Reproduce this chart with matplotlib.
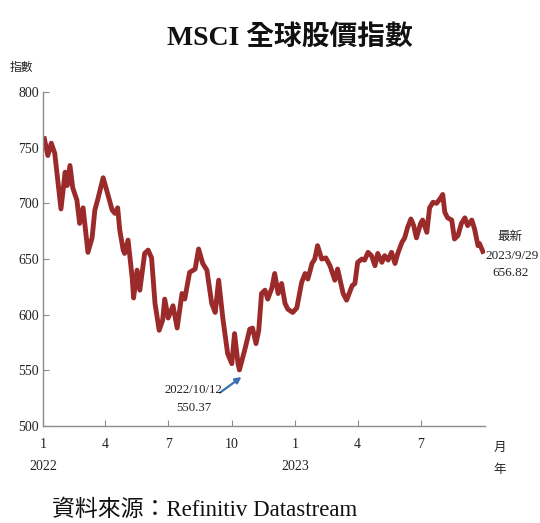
import matplotlib
matplotlib.use("Agg")
import matplotlib.pyplot as plt
import pandas as pd

plt.rcParams['font.family'] = ['Liberation Serif', 'Noto Sans CJK TC', 'DejaVu Sans']

dates = [
    "2022-01-03", "2022-01-08", "2022-01-13", "2022-01-18", "2022-01-27", "2022-02-02",
    "2022-02-05", "2022-02-09", "2022-02-13", "2022-02-19", "2022-02-23", "2022-02-28",
    "2022-03-07", "2022-03-13", "2022-03-17", "2022-03-21", "2022-03-29", "2022-04-03",
    "2022-04-11", "2022-04-15", "2022-04-19", "2022-04-22", "2022-04-27", "2022-04-29",
    "2022-05-04", "2022-05-10", "2022-05-12", "2022-05-17", "2022-05-21", "2022-05-28",
    "2022-06-02", "2022-06-07", "2022-06-12", "2022-06-18", "2022-06-23", "2022-06-26",
    "2022-07-01", "2022-07-08", "2022-07-14", "2022-07-21", "2022-07-25", "2022-08-01",
    "2022-08-09", "2022-08-14", "2022-08-20", "2022-08-26", "2022-09-02", "2022-09-07",
    "2022-09-12", "2022-09-18", "2022-09-25", "2022-10-01", "2022-10-05", "2022-10-10",
    "2022-10-12", "2022-10-20", "2022-10-27", "2022-10-31", "2022-11-05", "2022-11-09",
    "2022-11-13", "2022-11-18", "2022-11-22", "2022-11-28", "2022-12-02", "2022-12-07",
    "2022-12-12", "2022-12-17", "2022-12-21", "2022-12-28", "2023-01-03", "2023-01-10",
    "2023-01-15", "2023-01-19", "2023-01-25", "2023-01-29", "2023-02-02", "2023-02-08",
    "2023-02-14", "2023-02-20", "2023-02-27", "2023-03-03", "2023-03-11", "2023-03-16",
    "2023-03-24", "2023-03-28", "2023-04-01", "2023-04-07", "2023-04-11", "2023-04-16",
    "2023-04-21", "2023-04-26", "2023-04-30", "2023-05-06", "2023-05-10", "2023-05-15",
    "2023-05-20", "2023-05-25", "2023-05-29", "2023-06-04", "2023-06-08", "2023-06-12",
    "2023-06-17", "2023-06-21", "2023-06-25", "2023-07-01", "2023-07-04", "2023-07-10",
    "2023-07-14", "2023-07-19", "2023-07-24", "2023-07-29", "2023-08-02", "2023-08-05",
    "2023-08-09", "2023-08-15", "2023-08-19", "2023-08-24", "2023-08-29", "2023-09-03",
    "2023-09-07", "2023-09-13", "2023-09-17", "2023-09-22", "2023-09-24", "2023-09-29",
]
values = [
    758, 743, 754, 745, 695, 728,
    716, 734, 714, 703, 682, 696,
    656, 669, 694, 703, 723, 712,
    694, 691, 696, 676, 658, 655,
    667, 633, 615, 640, 622, 655,
    658, 651, 610, 586, 595, 614,
    597, 608, 588, 619, 614, 638,
    641, 659, 646, 640, 610, 602,
    631, 597, 565, 556, 583, 556,
    550.37, 569, 587, 588, 574, 586,
    619, 622, 614, 624, 637, 619,
    628, 610, 605, 602, 606, 629,
    637, 632, 646, 650, 662, 650,
    651, 644, 631, 641, 619, 613,
    626, 628, 647, 650, 649, 656,
    653, 644, 655, 647, 653, 649,
    656, 646, 655, 665, 669, 678,
    686, 680, 669, 682, 685, 674,
    696, 701, 700, 704, 708, 692,
    687, 685, 668, 671, 682, 687,
    680, 685, 677, 662, 664, 656.82,
]
tick_dates = ["2022-01-01", "2022-04-01", "2022-07-01", "2022-10-01",
              "2023-01-01", "2023-04-01", "2023-07-01"]
tick_labels = ["1\n2022", "4", "7", "10", "1\n2023", "4", "7"]
y_ticks = [500, 550, 600, 650, 700, 750, 800]

d = pd.to_datetime(dates)
fig = plt.figure(figsize=(5.4, 5.23), dpi=100)
ax = fig.add_axes([0.0796, 0.1855, 0.8184, 0.6385])
ax.plot(d, values, color="#9b2a2a", linewidth=3.5, solid_joinstyle="round")

ax.set_ylim(500, 800)
ax.set_xlim(pd.Timestamp("2022-01-01"), pd.Timestamp("2023-10-02"))
ax.set_yticks(y_ticks)
ax.set_xticks(pd.to_datetime(tick_dates))
ax.set_xticklabels(tick_labels, linespacing=1.9)
for s in ["top", "right"]:
    ax.spines[s].set_visible(False)
for s in ["left", "bottom"]:
    ax.spines[s].set_color("#8c8c8c")
    ax.spines[s].set_linewidth(1.0)
ax.tick_params(axis="both", direction="in", color="#8c8c8c", length=4,
               labelsize=10, labelcolor="#222222")
ax.tick_params(axis="x", pad=9)
ax.tick_params(axis="y", pad=3)

# annotation for the low
ax.annotate("", xy=(pd.Timestamp("2022-10-15"), 544), xytext=(pd.Timestamp("2022-09-14"), 530),
            arrowprops=dict(arrowstyle="-|>", color="#3a72b0", lw=1.6, mutation_scale=9,
                            shrinkA=0, shrinkB=0))
ax.text(pd.Timestamp("2022-08-07"), 532, "2022/10/12", ha="center", va="center",
        fontsize=9.2, color="#222222")
ax.text(pd.Timestamp("2022-08-07"), 516, "550.37", ha="center", va="center",
        fontsize=9.2, color="#222222")

fig.text(510 / 540, 1 - 236 / 523, "最新", ha="center", va="center", fontsize=9,
         family=["Noto Sans CJK TC"], color="#222222")
fig.text(512 / 540, 1 - 256 / 523, "2023/9/29", ha="center", va="center", fontsize=9.5,
         color="#222222")
fig.text(511 / 540, 1 - 273 / 523, "656.82", ha="center", va="center", fontsize=9.5,
         color="#222222")

fig.text(290 / 540, 1 - 38 / 523, "MSCI 全球股價指數", ha="center", va="center",
         fontsize=20, fontweight="bold", color="#111111")
fig.text(10 / 540, 1 - 67 / 523, "指數", ha="left", va="center", fontsize=8.5,
         family=["Noto Sans CJK TC"], color="#222222")
fig.text(500 / 540, 1 - 447 / 523, "月", ha="center", va="center", fontsize=9,
         family=["Noto Sans CJK TC"], color="#222222")
fig.text(500 / 540, 1 - 469 / 523, "年", ha="center", va="center", fontsize=9,
         family=["Noto Sans CJK TC"], color="#222222")
fig.text(52 / 540, 1 - 510 / 523, "資料來源：Refinitiv Datastream", ha="left", va="center",
         fontsize=16.5, color="#111111")

fig.savefig("out.png", dpi=100)
